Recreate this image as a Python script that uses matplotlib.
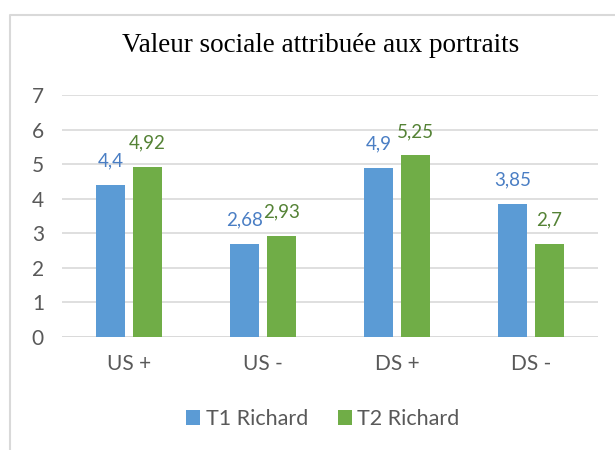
import matplotlib
matplotlib.use("Agg")
import matplotlib.pyplot as plt
from matplotlib.lines import Line2D
import numpy as np

categories = ["US +", "US -", "DS +", "DS -"]
t1_values = [4.4, 2.68, 4.9, 3.85]
t2_values = [4.92, 2.93, 5.25, 2.7]
t1_labels = ["4,4", "2,68", "4,9", "3,85"]
t2_labels = ["4,92", "2,93", "5,25", "2,7"]
series_names = ["T1 Richard", "T2 Richard"]
yticks = [0, 1, 2, 3, 4, 5, 6, 7]

blue = "#5B9BD5"
green = "#70AD47"
blue_txt = "#4A7EC4"
green_txt = "#548235"
font = "Lato"

W, H = 615, 450
fig = plt.figure(figsize=(W / 100, H / 100), dpi=100)
fig.patch.set_facecolor("white")

# chart border (left and top edges visible)
fig.lines.append(Line2D([9.5 / W, 9.5 / W, 1.0], [0.0, 1 - 14.5 / H, 1 - 14.5 / H],
                        transform=fig.transFigure, color="#D9D9D9", linewidth=1.5))

ax = fig.add_axes([62 / W, (H - 337) / H, (598 - 62) / W, (337 - 95) / H])
ax.set_xlim(-0.5, 3.5)
ax.set_ylim(0, 7)

x = np.arange(len(categories))
bw = 0.215
off = 0.136
b1 = ax.bar(x - off, t1_values, bw, color=blue, label=series_names[0], zorder=2)
b2 = ax.bar(x + off, t2_values, bw, color=green, label=series_names[1], zorder=2)

for xi, v, lab in zip(x, t1_values, t1_labels):
    ax.text(xi - off, v + 0.45, lab, ha="center", va="bottom", color=blue_txt,
            fontsize=13.5, family=font)
for xi, v, lab in zip(x, t2_values, t2_labels):
    ax.text(xi + off, v + 0.45, lab, ha="center", va="bottom", color=green_txt,
            fontsize=13.5, family=font)

ax.set_yticks(yticks)
ax.set_yticklabels([str(t) for t in yticks], family=font, fontsize=15, color="#595959")
ax.set_xticks(x)
ax.set_xticklabels(categories, family=font, fontsize=15, color="#595959")
ax.tick_params(axis="both", length=0)
ax.tick_params(axis="y", pad=13)
ax.tick_params(axis="x", pad=12)
ax.grid(axis="y", color="#D9D9D9", linewidth=1.2, zorder=0)
for s in ax.spines.values():
    s.set_visible(False)
ax.axhline(0, color="#D9D9D9", linewidth=1.2, zorder=1)

fig.text(321 / W, 1 - 46 / H, "Valeur sociale attribuée aux portraits",
         ha="center", va="center", family="Liberation Serif", fontsize=19.5, color="black")

leg = fig.legend(handles=[b1, b2], labels=series_names, loc="center",
                 bbox_to_anchor=(323 / W, 1 - 419 / H), ncol=2, frameon=False,
                 prop={"family": font, "size": 15.5}, handlelength=0.65, handleheight=0.65,
                 handletextpad=0.25, columnspacing=1.4)
for t in leg.get_texts():
    t.set_color("#595959")

fig.savefig("out.png", dpi=100, facecolor="white")
